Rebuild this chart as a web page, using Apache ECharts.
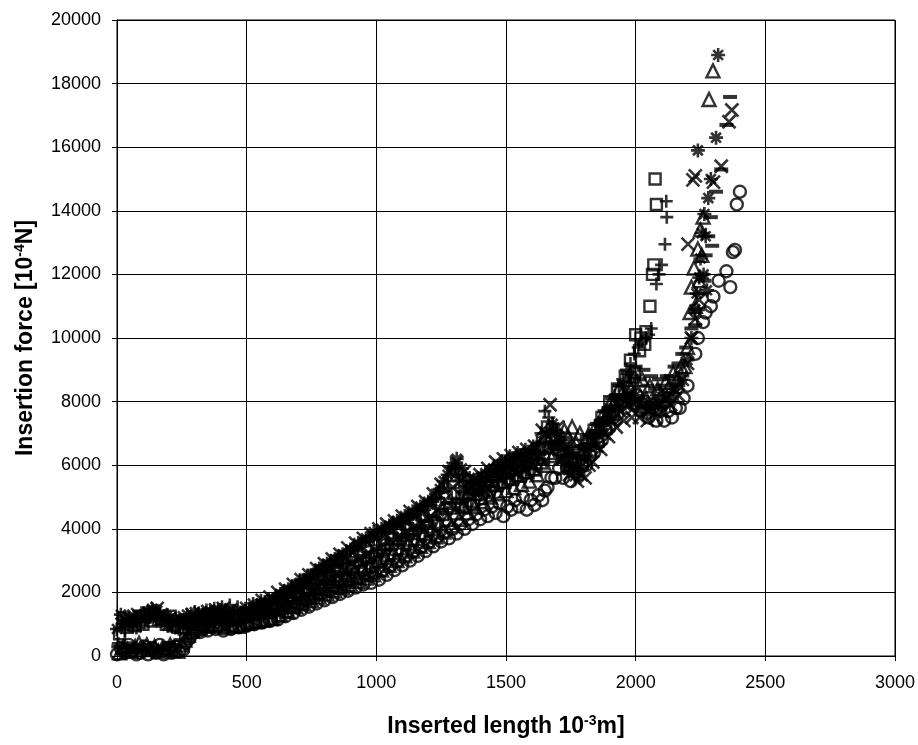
<!DOCTYPE html>
<html><head><meta charset="utf-8">
<script src="https://cdn.jsdelivr.net/npm/echarts@6/dist/echarts.min.js"></script>
<style>html,body{margin:0;padding:0;background:#fff}#c{width:918px;height:745px}</style>
</head><body><div id="c"></div>
<script>
const xTicks = [0, 500, 1000, 1500, 2000, 2500, 3000];
const yTicks = [0, 2000, 4000, 6000, 8000, 10000, 12000, 14000, 16000, 18000, 20000];

const squares = [[10,700],[40,900],[70,950],[100,1000],[130,1100],[160,1150],[190,1000],[220,950],[250,900],[280,1000],[310,1150],[340,1200],[370,1250],[400,1300],[430,1250],[460,1200],[490,1300],[520,1350],[550,1400],[580,1500],[610,1600],[640,1750],[670,1900],[700,2000],[730,2150],[760,2300],[790,2450],[820,2550],[850,2700],[880,2750],[910,2800],[940,3000],[970,3100],[1000,3300],[1030,3500],[1060,3700],[1090,3900],[1120,4000],[1150,4200],[1180,4400],[1210,4550],[1240,4800],[1270,5000],[1300,5100],[1330,5000],[1360,5100],[1390,5300],[1420,5500],[1450,5700],[1480,5800],[1510,5900],[1540,6000],[1570,6100],[1600,6200],[1630,6500],[1660,7200],[1690,6800],[1720,6400],[1750,6200],[1780,6400],[1810,6800],[1840,7100],[1870,7500],[1900,8000],[1930,8400],[1960,8800],[1980,9300],[2000,10100],[2020,10000],[2040,10200],[2055,11000],[2065,12000],[2070,12300],[2080,14200],[2075,15000],
  [25,1200],[55,1100],[85,1250],[115,1350],[145,1300],[175,1100],[205,1250],[235,900],[265,700],[295,750],[325,850],[355,900],[385,950],[415,1000],[445,950],[475,900],[505,1000],[535,1050],[565,1100],[595,1150],[625,1250],[655,1400],[685,1550],[715,1650],[745,1800],[775,1950],[805,2100],[835,2200],[865,2350],[895,2400],[925,2450],[955,2700],[985,2800],[1015,2950],[1045,3150],[1075,3350],[1105,3550],[1135,3650],[1165,3850],[1195,4050],[1225,4200],[1255,4450],[1285,4650],[1315,4750],[1345,4700],[1375,4750],[1405,4950],[1435,5150],[1465,5350],[1495,5450],[1525,5550],[1555,5650],[1585,5750],[1615,5850],[1645,6200],[1675,6900],[1705,6500],[1735,6100],[1765,5900],[1795,6050],[1825,6450],[1855,6750],[1885,7150],[1915,7650],[1945,8050],[1975,8450],[1995,8900],[2015,9600],[2035,9800]];

const pluses = [[5,400],[30,800],[60,1000],[90,1100],[120,1200],[150,1250],[180,1200],[210,1100],[240,1000],[270,1100],[300,1200],[330,1300],[360,1350],[390,1400],[420,1450],[450,1400],[480,1350],[510,1500],[540,1600],[570,1650],[600,1700],[630,1850],[660,2000],[690,2200],[720,2350],[750,2500],[780,2650],[810,2800],[840,3000],[870,3100],[900,3300],[930,3400],[960,3600],[990,3750],[1020,3900],[1050,4000],[1080,4150],[1110,4300],[1140,4450],[1170,4600],[1200,4750],[1230,4950],[1260,5300],[1290,5700],[1320,5500],[1350,5300],[1380,5400],[1410,5600],[1440,5800],[1470,6000],[1500,6100],[1530,6200],[1560,6300],[1590,6400],[1620,6700],[1650,7700],[1680,7300],[1710,6800],[1740,6300],[1770,6200],[1800,6500],[1830,6900],[1860,7300],[1890,7700],[1920,8200],[1950,8700],[1980,9200],[2010,9700],[2040,10000],[2060,10300],[2080,11700],[2090,12000],[2100,12300],[2113,12950],[2120,13800],[2118,14300],
  [20,1000],[45,1150],[75,1250],[105,1300],[135,1400],[165,1350],[195,1300],[225,1200],[255,1150],[285,1250],[315,1350],[345,1450],[375,1500],[405,1550],[435,1600],[465,1550],[495,1500],[525,1650],[555,1750],[585,1800],[615,1900],[645,2050],[675,2200],[705,2400],[735,2550],[765,2700],[795,2850],[825,3000],[855,3150],[885,3300],[915,3450],[945,3600],[975,3750],[1005,3900],[1035,4050],[1065,4200],[1095,4300],[1125,4450],[1155,4600],[1185,4750],[1215,4900],[1245,5150],[1275,5500],[1305,5900],[1335,5700],[1365,5500],[1395,5600],[1425,5800],[1455,6000],[1485,6150],[1515,6300],[1545,6400],[1575,6500],[1605,6600],[1635,7000],[1665,7500],[1695,7100],[1725,6600],[1755,6400],[1785,6400],[1815,6700],[1845,7100],[1875,7500],[1905,7900],[1935,8500],[1965,9000],[1995,9500],[2025,9900],[2050,10100]];

const crosses = [[20,1000],[50,1200],[80,1300],[110,1250],[140,1400],[170,1300],[200,1150],[230,1100],[260,1200],[290,1300],[320,1350],[350,1400],[380,1450],[410,1500],[440,1450],[470,1400],[500,1500],[530,1600],[560,1750],[590,1850],[620,2000],[650,2100],[680,2250],[710,2400],[740,2550],[770,2750],[800,2900],[830,3050],[860,3200],[890,3400],[920,3550],[950,3700],[980,3850],[1010,4000],[1040,4150],[1070,4250],[1100,4400],[1130,4550],[1160,4700],[1190,4850],[1220,5100],[1250,5400],[1280,5800],[1310,6100],[1340,5800],[1370,5600],[1400,5700],[1430,5900],[1460,6100],[1490,6200],[1520,6300],[1550,6400],[1580,6500],[1610,6600],[1640,7100],[1670,7900],[1700,7200],[1730,6600],[1760,6000],[1790,5700],[1820,6000],[1850,6600],[1880,7000],[1910,7400],[1940,7700],[1970,7900],[2000,8000],[2030,7900],[2060,7800],[2090,7900],[2120,8100],[2150,8400],[2180,8700],[2200,9200],[2215,10000],[2230,10600],[2245,11200],[2202,12950],[2221,14970],[2230,15100],[2300,14900],[2330,15400],[2360,16800],[2371,17170],
  [35,1100],[65,1250],[95,1200],[125,1350],[155,1500],[185,1200],[215,1100],[245,1150],[275,1000],[305,950],[335,1000],[365,1050],[395,1100],[425,1150],[455,1100],[485,1050],[515,1150],[545,1250],[575,1350],[605,1450],[635,1550],[665,1650],[695,1800],[725,1950],[755,2100],[785,2300],[815,2400],[845,2550],[875,2700],[905,2900],[935,3050],[965,3200],[995,3350],[1025,3500],[1055,3650],[1085,3750],[1115,3900],[1145,4050],[1175,4200],[1205,4350],[1235,4600],[1265,4900],[1295,5300],[1325,5500],[1355,5200],[1385,5100],[1415,5200],[1445,5400],[1475,5600],[1505,5700],[1535,5800],[1565,5900],[1595,6000],[1625,6300],[1655,7000],[1685,6700],[1715,6200],[1745,5700],[1775,5500],[1805,5600],[1835,6100],[1865,6500],[1895,6900],[1925,7200],[1955,7400],[1985,7500],[2015,7500],[2045,7400],[2075,7500],[2105,7700],[2135,7900],[2165,8200]];

const asterisks = [[0,850],[30,1150],[60,1050],[90,1200],[120,1300],[135,1480],[155,1420],[180,1250],[210,1050],[240,1100],[270,1300],[300,1380],[330,1300],[360,1400],[390,1450],[420,1400],[450,1350],[480,1350],[510,1450],[540,1600],[570,1700],[600,1750],[630,1950],[660,2100],[690,2250],[720,2400],[750,2550],[780,2750],[810,2900],[840,3050],[870,3200],[900,3350],[930,3550],[960,3700],[990,3900],[1020,4000],[1050,4100],[1080,4250],[1110,4400],[1140,4550],[1170,4700],[1200,4850],[1230,5100],[1260,5500],[1290,5950],[1310,6200],[1330,5900],[1360,5600],[1390,5550],[1420,5750],[1450,5900],[1480,6000],[1510,6100],[1540,6250],[1570,6350],[1600,6400],[1630,6600],[1655,7000],[1680,7300],[1700,6900],[1725,6400],[1750,6100],[1775,5900],[1800,6200],[1830,6700],[1860,7100],[1890,7500],[1920,7800],[1950,8100],[1975,8300],[2000,8200],[2030,8000],[2060,7900],[2090,8100],[2120,8200],[2150,8400],[2180,8800],[2200,9300],[2215,10000],[2230,10900],[2235,11400],[2245,11900],[2250,12500],[2255,13300],[2262,12000],[2265,13900],[2270,13200],[2275,11500],[2280,14400],[2290,15000],[2240,15900],[2310,16300],[2318,18900],
  [15,1300],[45,1000],[75,900],[105,1050],[145,1250],[170,1100],[195,950],[225,900],[255,1100],[285,1150],[315,1050],[345,1150],[375,1200],[405,1200],[435,1150],[465,1100],[495,1200],[525,1350],[555,1450],[585,1500],[615,1700],[645,1850],[675,2000],[705,2150],[735,2300],[765,2500],[795,2650],[825,2800],[855,2950],[885,3100],[915,3300],[945,3450],[975,3650],[1005,3750],[1035,3850],[1065,4000],[1095,4150],[1125,4300],[1155,4450],[1185,4600],[1215,4850],[1245,5250],[1275,5700],[1300,5950],[1320,5650],[1345,5350],[1375,5300],[1405,5500],[1435,5650],[1465,5750],[1495,5850],[1525,6000],[1555,6100],[1585,6150],[1615,6350],[1645,6750],[1670,7050],[1690,6650],[1715,6150],[1740,5850],[1765,5650],[1790,5950],[1815,6450],[1845,6850],[1875,7250],[1905,7550],[1935,7850],[1965,8050],[1990,7950],[2015,7750],[2045,7650],[2075,7850],[2105,7950],[2135,8150],[2165,8550]];

const triangles = [[10,100],[40,200],[70,300],[100,250],[130,200],[160,150],[190,200],[220,250],[250,350],[275,650],[300,850],[330,950],[360,1000],[390,950],[420,900],[450,950],[480,1000],[510,1050],[540,1100],[570,1150],[600,1200],[630,1300],[660,1400],[690,1550],[720,1650],[750,1750],[780,1850],[810,1950],[840,2050],[870,2150],[900,2250],[930,2350],[960,2450],[990,2550],[1020,2700],[1050,2850],[1080,3000],[1110,3150],[1140,3300],[1170,3450],[1200,3600],[1230,3750],[1260,3900],[1290,4100],[1320,4300],[1350,4500],[1380,4700],[1410,4850],[1440,5000],[1470,5100],[1500,5200],[1530,5300],[1560,5400],[1590,5500],[1620,5700],[1650,6000],[1680,6300],[1710,6700],[1740,6900],[1770,6700],[1800,6500],[1830,6800],[1860,7200],[1890,7600],[1920,8000],[1950,8300],[1980,8400],[2010,8300],[2040,8100],[2070,8000],[2100,8200],[2130,8500],[2160,8700],[2190,9100],[2210,10800],[2215,11600],[2230,11000],[2245,11800],[2225,12200],[2240,12800],[2255,12600],[2250,13400],[2260,13800],[2283,17500],[2298,18400],
  [25,300],[55,150],[85,400],[115,350],[145,300],[175,250],[205,350],[235,150],[262,500],[288,1100],[315,1250],[345,1300],[375,1350],[405,1300],[435,1250],[465,1300],[495,1350],[525,1400],[555,1450],[585,1550],[615,1600],[645,1700],[675,1850],[705,1950],[735,2100],[765,2150],[795,2250],[825,2350],[855,2450],[885,2550],[915,2650],[945,2750],[975,2850],[1005,3000],[1035,3100],[1065,3250],[1095,3400],[1125,3550],[1155,3700],[1185,3850],[1215,4000],[1245,4150],[1275,4300],[1305,4500],[1335,4700],[1365,4900],[1395,5100],[1425,5250],[1455,5400],[1485,5500],[1515,5600],[1545,5700],[1575,5800],[1605,5900],[1635,6100],[1665,6400],[1695,6700],[1725,7100],[1755,7200],[1785,7000],[1815,6900],[1845,7200],[1875,7600],[1905,8000],[1935,8400],[1965,8700],[1995,8800],[2025,8700],[2055,8500],[2085,8400],[2115,8600],[2145,8900],[2175,9100],[2200,9700]];

const circles = [[0,50],[30,100],[60,150],[90,100],[120,50],[150,100],[180,50],[210,100],[240,150],[265,400],[290,700],[320,750],[350,800],[380,850],[410,800],[440,850],[470,900],[500,950],[530,1000],[560,1050],[590,1100],[620,1150],[650,1250],[680,1350],[710,1450],[740,1550],[770,1650],[800,1750],[830,1850],[860,1950],[890,2050],[920,2150],[950,2250],[980,2300],[1010,2400],[1040,2550],[1070,2700],[1100,2850],[1130,3000],[1160,3150],[1190,3300],[1220,3450],[1250,3600],[1280,3700],[1310,3850],[1340,4000],[1370,4150],[1400,4300],[1430,4400],[1460,4500],[1490,4400],[1520,4600],[1550,4700],[1580,4600],[1610,4750],[1640,4900],[1660,5300],[1690,5600],[1720,5600],[1750,5500],[1780,5700],[1810,6000],[1840,6400],[1870,6800],[1900,7200],[1930,7600],[1960,7800],[1990,7900],[2020,7700],[2050,7500],[2080,7400],[2110,7400],[2140,7500],[2170,7800],[2200,8500],[2230,9500],[2240,10000],[2260,10500],[2270,10800],[2290,11000],[2300,11300],[2320,11800],[2350,12100],[2365,11600],[2375,12700],[2383,12770],[2390,14200],[2402,14600],
  [15,250],[45,350],[75,50],[105,300],[135,250],[165,350],[195,250],[225,300],[255,200],[280,550],[305,900],[335,1000],[365,1100],[395,1150],[425,1050],[455,1150],[485,1200],[515,1250],[545,1300],[575,1350],[605,1400],[635,1450],[665,1550],[695,1650],[725,1750],[755,1850],[785,1950],[815,2050],[845,2150],[875,2250],[905,2350],[935,2450],[965,2550],[995,2600],[1025,2700],[1055,2850],[1085,3000],[1115,3150],[1145,3300],[1175,3450],[1205,3600],[1235,3750],[1265,3900],[1295,4000],[1325,4150],[1355,4300],[1385,4450],[1415,4600],[1445,4700],[1475,4800],[1505,4700],[1535,4900],[1565,5000],[1595,4900],[1625,5050],[1650,5200],[1675,5600],[1705,5900],[1735,5900],[1765,5800],[1795,6000],[1825,6300],[1855,6700],[1885,7100],[1915,7500],[1945,7900],[1975,8100],[2005,8200],[2035,8000],[2065,7800],[2095,7700],[2125,7700],[2155,7800],[2185,8100]];

const dashes = [[5,300],[35,250],[65,300],[95,200],[125,250],[155,300],[185,250],[215,350],[245,500],[275,900],[305,1000],[335,1050],[365,1100],[395,1100],[425,1050],[455,1100],[485,1150],[515,1200],[545,1250],[575,1350],[605,1450],[635,1550],[665,1700],[695,1850],[725,1950],[755,2100],[785,2250],[815,2350],[845,2500],[875,2600],[905,2700],[935,2800],[965,2950],[995,3050],[1025,3200],[1055,3350],[1085,3500],[1115,3650],[1145,3800],[1175,3950],[1205,4100],[1235,4300],[1265,4500],[1295,4650],[1325,4800],[1355,4950],[1385,5100],[1415,5200],[1445,5350],[1475,5500],[1505,5600],[1535,5700],[1565,5800],[1595,5900],[1625,6100],[1655,6400],[1685,6700],[1715,6500],[1745,6300],[1775,6300],[1805,6600],[1835,7000],[1865,7400],[1895,7800],[1925,8200],[1955,8600],[1985,8800],[2015,8700],[2045,8500],[2075,8400],[2105,8500],[2135,8800],[2165,9200],[2195,9700],[2215,10300],[2230,10400],[2240,10900],[2250,11400],[2255,12000],[2265,11800],[2270,12600],[2280,13200],[2290,13800],[2295,12900],[2310,14600],[2330,15300],[2350,16700],[2364,17580],
  [20,100],[50,400],[80,150],[110,350],[140,100],[170,200],[200,400],[230,300],[260,700],[290,1050],[320,1150],[350,1250],[380,1300],[410,1350],[440,1300],[470,1400],[500,1450],[530,1500],[560,1550],[590,1650],[620,1750],[650,1850],[680,2000],[710,2150],[740,2250],[770,2400],[800,2550],[830,2650],[860,2800],[890,2900],[920,3000],[950,3100],[980,3250],[1010,3350],[1040,3500],[1070,3650],[1100,3800],[1130,3950],[1160,4100],[1190,4250],[1220,4400],[1250,4600],[1280,4800],[1310,4950],[1340,5100],[1370,5250],[1400,5400],[1430,5500],[1460,5650],[1490,5800],[1520,5900],[1550,6000],[1580,6100],[1610,6200],[1640,6400],[1670,6700],[1700,7000],[1730,6800],[1760,6600],[1790,6600],[1820,6900],[1850,7300],[1880,7700],[1910,8100],[1940,8500],[1970,8900],[2000,9100],[2030,9000],[2060,8800],[2090,8700],[2120,8800],[2150,9100],[2180,9500]];

const FONT = 'Arial, "Liberation Sans", sans-serif';
const hollow = {color: 'rgba(255,255,255,0)', borderColor: '#000', borderWidth: 2.4};
const strokeOnly = {color: 'rgba(0,0,0,0)', borderColor: '#000', borderWidth: 2.6};

function sc(name, data, symbol, size, style) {
  return {name, type: 'scatter', data, symbol, symbolSize: size, itemStyle: style, animation: false, silent: true};
}

const chart = echarts.init(document.getElementById('c'), null, {renderer: 'canvas'});
chart.setOption({
  backgroundColor: '#fff',
  animation: false,
  grid: {left: 117, right: 23, top: 20, bottom: 89, show: true, borderColor: '#000', borderWidth: 1},
  xAxis: {
    type: 'value', min: xTicks[0], max: xTicks[xTicks.length - 1], interval: 500,
    axisLine: {show: true, lineStyle: {color: '#000', width: 1}},
    axisTick: {show: true, length: 5, lineStyle: {color: '#000'}},
    axisLabel: {color: '#000', fontSize: 18, fontFamily: FONT, margin: 18, formatter: v => String(v)},
    splitLine: {show: true, lineStyle: {color: '#000', width: 1}},
    name: '{b|Inserted length 10}{s|-3}{b|m]}', nameLocation: 'middle', nameGap: 58,
    nameTextStyle: {rich: {
      b: {fontSize: 23, fontWeight: 'bold', fontFamily: FONT, color: '#000'},
      s: {fontSize: 14, fontWeight: 'bold', fontFamily: FONT, color: '#000', padding: [0, 0, 12, 0]}
    }}
  },
  yAxis: {
    type: 'value', min: yTicks[0], max: yTicks[yTicks.length - 1], interval: 2000,
    axisLine: {show: true, lineStyle: {color: '#000', width: 1}},
    axisTick: {show: true, length: 5, lineStyle: {color: '#000'}},
    axisLabel: {color: '#000', fontSize: 18, fontFamily: FONT, margin: 16, formatter: v => String(v)},
    splitLine: {show: true, lineStyle: {color: '#000', width: 1}},
    name: '{b|Insertion force [10}{s|-4}{b|N]}', nameLocation: 'middle', nameGap: 78,
    nameTextStyle: {rich: {
      b: {fontSize: 23, fontWeight: 'bold', fontFamily: FONT, color: '#000'},
      s: {fontSize: 14, fontWeight: 'bold', fontFamily: FONT, color: '#000', padding: [0, 0, 12, 0]}
    }}
  },
  series: [
    sc('circle', circles, 'circle', 12, hollow),
    sc('triangle', triangles, 'triangle', 13, hollow),
    sc('square', squares, 'rect', 11, hollow),
    sc('plus', pluses, 'path://M5,0L5,10M0,5L10,5', 13, strokeOnly),
    sc('cross', crosses, 'path://M0,0L10,10M0,10L10,0', 13, strokeOnly),
    sc('asterisk', asterisks, 'path://M5,0L5,10M0,5L10,5M1.5,1.5L8.5,8.5M1.5,8.5L8.5,1.5', 14, strokeOnly),
    sc('dash', dashes, 'rect', [14, 4], {color: '#000'})
  ]
});
</script></body></html>
